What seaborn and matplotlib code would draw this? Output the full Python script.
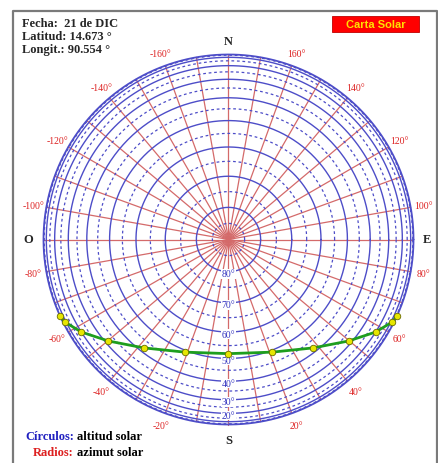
import numpy as np
import pandas as pd
import matplotlib
matplotlib.use("Agg")
import matplotlib.pyplot as plt
import seaborn as sns
from matplotlib.lines import Line2D
from matplotlib.patches import Rectangle

# =========================
# datos de la carta solar
# =========================
fecha = "21 de DIC"
latitud = 14.673
longitud = 90.554

alt_solid = [0, 10, 20, 30, 40, 50, 60, 70, 80]
alt_dashed = [5, 15, 25, 35, 45, 55, 65, 75, 85]
alt_labels = [20, 30, 40, 50, 60, 70, 80]
az_lines = list(range(-180, 180, 10))
az_labels = [-160, -140, -120, -100, -80, -60, -40, -20, 20, 40, 60, 80, 100, 120, 140, 160]

# trayectoria del sol (cada hora, salida y puesta)
sun_alt = [0.0, 7.4, 20.1, 31.8, 41.9, 49.2, 51.9, 49.2, 41.9, 31.8, 20.1, 7.4, 0.0]
sun_az = [-65.7, -63.3, -57.8, -49.8, -38.1, -21.3, 0.0, 21.3, 38.1, 49.8, 57.8, 63.3, 65.7]


def proj(alt, az):
    r = np.cos(np.radians(alt))
    a = np.radians(az)
    return r * np.sin(a), -r * np.cos(a)


W, H = 439, 464
CX, CY, R = 228.5, 240.5, 185.0

sns.set_style("white")
serif = ["Liberation Serif", "DejaVu Serif"]

fig = plt.figure(figsize=(W / 100, H / 100), dpi=100)
ax = fig.add_axes([0, 0, 1, 1])
ax.set_xlim(-CX / R, (W - CX) / R)
ax.set_ylim((CY - H) / R, CY / R)
ax.axis("off")

t = np.linspace(0, 2 * np.pi, 400)
blue = "#4d4dc8"
red = "#d46a6a"

# radios (azimut)
for az in az_lines:
    x, y = proj(0, az)
    ax.plot([0, x], [0, y], color=red, lw=0.9, zorder=2)

# circulos (altitud)
for alt in alt_dashed:
    r = np.cos(np.radians(alt))
    ax.plot(r * np.cos(t), r * np.sin(t), color=blue, lw=0.9, ls=(0, (2.2, 2.2)), zorder=3)
for alt in alt_solid:
    r = np.cos(np.radians(alt))
    ax.plot(r * np.cos(t), r * np.sin(t), color=blue, lw=1.3 if alt == 0 else 1.0, zorder=3)

# etiquetas de azimut
for az in az_labels:
    x, y = proj(0, az)
    ax.text(1.07 * x, 1.07 * y, f"{az}°", color="#dd2222", fontsize=7,
            family=serif, ha="center", va="center", zorder=5)

# etiquetas de altitud
for alt in alt_labels:
    x, y = proj(alt, 0)
    ax.text(x, y - 0.012, f"{alt}°", color="#3535c0", fontsize=7, family=serif,
            ha="center", va="center", zorder=6,
            bbox=dict(facecolor="white", edgecolor="none", pad=0.2))

# puntos cardinales
for lab, (x, y) in {"N": (0, 1.075), "S": (0, -1.085), "O": (-1.085, 0), "E": (1.075, 0)}.items():
    ax.text(x, y, lab, fontsize=9, weight="bold", family=serif, ha="center", va="center")

# trayectoria solar
sx, sy = proj(np.array(sun_alt), np.array(sun_az))
df = pd.DataFrame({"x": sx, "y": sy})
sns.lineplot(data=df, x="x", y="y", sort=False, color="#1e9e1e", lw=2, ax=ax, zorder=7)
sns.scatterplot(data=df, x="x", y="y", color="#e6e600", edgecolor="#6a6a00",
                linewidth=0.6, s=22, ax=ax, zorder=8)
ax.set_xlabel("")
ax.set_ylabel("")

# textos del encabezado
fig.text(22 / W, 1 - 24 / H, f"Fecha:  {fecha}", fontsize=9, weight="bold", family=serif, va="center")
fig.text(22 / W, 1 - 37 / H, f"Latitud: {latitud} °", fontsize=9, weight="bold", family=serif, va="center")
fig.text(22 / W, 1 - 50 / H, f"Longit.: {longitud} °", fontsize=9, weight="bold", family=serif, va="center")

fig.add_artist(Rectangle((332 / W, 1 - 33 / H), 87 / W, 16 / H, transform=fig.transFigure,
                         facecolor="#ff0000", edgecolor="#c00000", lw=0.6))
fig.text(375.5 / W, 1 - 25 / H, "Carta Solar", color="#ffe000", fontsize=8, weight="bold",
         family=["Liberation Sans", "DejaVu Sans"], ha="center", va="center")

# leyenda inferior
fig.text(74 / W, 1 - 437 / H, "Círculos:", color="#2020c0", fontsize=9, weight="bold",
         family=serif, ha="right", va="center")
fig.text(77 / W, 1 - 437 / H, "altitud solar", color="black", fontsize=9, weight="bold",
         family=serif, ha="left", va="center")
fig.text(74 / W, 1 - 453 / H, "Radios:", color="#dd2020", fontsize=9, weight="bold",
         family=serif, ha="right", va="center")
fig.text(77 / W, 1 - 453 / H, "azimut solar", color="black", fontsize=9, weight="bold",
         family=serif, ha="left", va="center")

# marco
bx0, bx1, by1 = 13 / W, 437 / W, 1 - 12 / H
fig.add_artist(Line2D([bx0, bx0, bx1, bx1], [0, by1, by1, 0], transform=fig.transFigure,
                      color="#7a7a7a", lw=1.6))

fig.savefig("out.png", dpi=100)
